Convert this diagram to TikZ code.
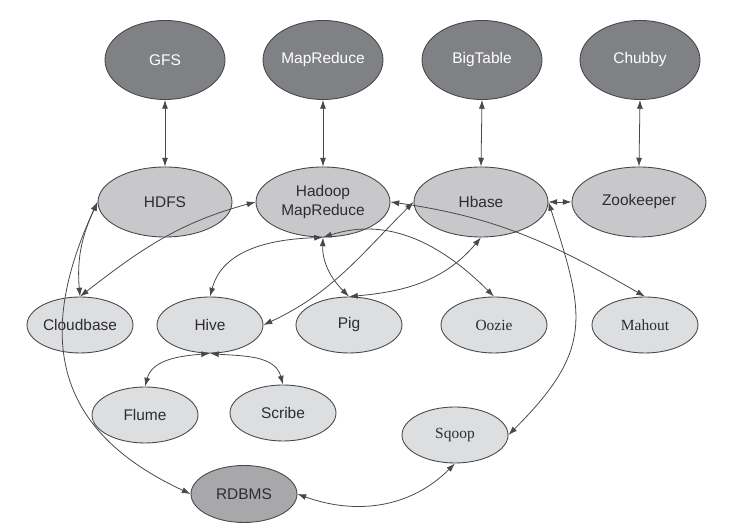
\documentclass[tikz,border=0pt]{standalone}
\usepackage{fontspec}
\setmainfont{Liberation Sans}
\newfontfamily\romanface{Liberation Serif}
\usetikzlibrary{shapes.geometric,arrows.meta}
\definecolor{googlegray}{RGB}{128,129,133}
\definecolor{coregray}{RGB}{200,200,202}
\definecolor{toolgray}{RGB}{221,222,224}
\definecolor{dbgray}{RGB}{168,168,170}
\definecolor{rimgray}{RGB}{72,72,74}
\definecolor{inkgray}{RGB}{45,45,47}

\begin{document}
\begin{tikzpicture}[
    every node/.style={font=\fontsize{8.8}{11.3}\selectfont, text=inkgray},
    googlenode/.style={ellipse, draw=rimgray, line width=0.5pt, fill=googlegray, text=white,
        minimum width=2.4cm, minimum height=1.58cm, inner sep=0pt},
    corenode/.style={ellipse, draw=rimgray, line width=0.5pt, fill=coregray,
        minimum width=2.68cm, minimum height=1.4cm, inner sep=0pt, align=center},
    toolnode/.style={ellipse, draw=rimgray, line width=0.5pt, fill=toolgray,
        minimum width=2.12cm, minimum height=1.12cm, inner sep=0pt},
    romannode/.style={toolnode, font=\fontsize{8.8}{11.3}\selectfont\romanface},
    dbnode/.style={toolnode, fill=dbgray, minimum height=1.14cm},
    biarrow/.style={{Latex[length=5pt,width=3.4pt]}-{Latex[length=5pt,width=3.4pt]},
        draw=rimgray, line width=0.45pt}
]
    \useasboundingbox (0,0) rectangle (14.86,10.60);

    % Google papers
    \node[googlenode] (gfs) at (3.30,9.40) {GFS};
    \node[googlenode] (mapreduce) at (6.46,9.40) {MapReduce};
    \node[googlenode] (bigtable) at (9.64,9.40) {BigTable};
    \node[googlenode] (chubby) at (12.80,9.40) {Chubby};

    % Hadoop core
    \node[corenode] (hdfs) at (3.30,6.56) {HDFS};
    \node[corenode] (hadoop) at (6.46,6.56) {Hadoop\\MapReduce};
    \node[corenode] (hbase) at (9.62,6.56) {Hbase};
    \node[corenode] (zookeeper) at (12.78,6.56) {Zookeeper};

    % Tools
    \node[toolnode] (cloudbase) at (1.60,4.10) {Cloudbase};
    \node[toolnode] (hive) at (4.20,4.10) {Hive};
    \node[toolnode] (pig) at (6.98,4.10) {Pig};
    \node[romannode] (oozie) at (9.88,4.10) {Oozie};
    \node[romannode] (mahout) at (12.90,4.10) {Mahout};
    \node[toolnode] (flume) at (2.90,2.30) {Flume};
    \node[toolnode] (scribe) at (5.66,2.34) {Scribe};
    \node[romannode] (sqoop) at (9.10,1.90) {Sqoop};
    \node[dbnode] (rdbms) at (4.88,0.72) {RDBMS};

    % Papers to implementations
    \draw[biarrow] (gfs.south) -- (hdfs.north);
    \draw[biarrow] (mapreduce.south) -- (hadoop.north);
    \draw[biarrow] (bigtable.south) -- (hbase.north);
    \draw[biarrow] (chubby.south) -- (zookeeper.north);
    \draw[biarrow] (hbase.east) -- (zookeeper.west);

    % Around Hadoop MapReduce
    \draw[biarrow] (hadoop.east) to[out=-8,in=150] (mahout.north);
    \draw[biarrow] (hive.north) to[out=75,in=182] (hadoop.south);
    \draw[biarrow] (hadoop.south) to[out=-92,in=135] (pig.north);
    \draw[biarrow] (hadoop.south) to[out=18,in=135] (oozie.north);
    \draw[biarrow] (cloudbase.north) to[out=38,in=195] (hadoop.west);

    % Around Hbase
    \draw[biarrow] (hive.east) to[out=25,in=-135] (hbase.west);
    \draw[biarrow] (pig.north) to[out=5,in=-130] (hbase.south);
    \draw[biarrow] (hbase.east) to[out=-72,in=45,looseness=1.3] (sqoop.east);

    % Around HDFS
    \draw[biarrow] (hdfs.west) to[out=245,in=95] (cloudbase.north);
    \draw[biarrow] (hdfs.west) .. controls +(245:3.4) and +(155:2.6) .. (rdbms.west);

    % Hive feeds and databases
    \draw[biarrow] (hive.south) to[out=185,in=75] (flume.north);
    \draw[biarrow] (hive.south) to[out=-5,in=105] (scribe.north);
    \draw[biarrow] (rdbms.east) to[out=-20,in=225] (sqoop.south);
\end{tikzpicture}
\end{document}
